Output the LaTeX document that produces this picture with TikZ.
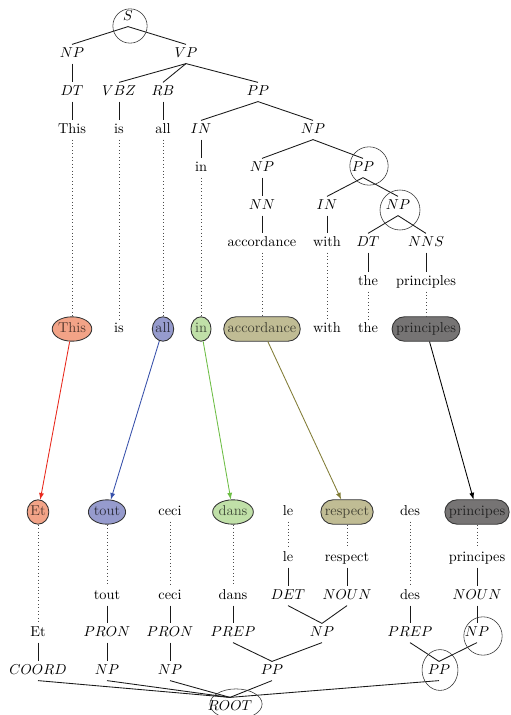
\documentclass[tikz,border=0pt]{standalone}
\usepackage{amsmath}
\usetikzlibrary{calc, shapes}

\definecolor{fThis}{RGB}{242,163,135}
\definecolor{fAll}{RGB}{150,155,205}
\definecolor{fIn}{RGB}{192,224,168}
\definecolor{fAcc}{RGB}{192,188,148}
\definecolor{fPri}{RGB}{118,116,116}
\definecolor{aThis}{RGB}{232,40,28}
\definecolor{aAll}{RGB}{55,80,170}
\definecolor{aIn}{RGB}{110,190,70}
\definecolor{aAcc}{RGB}{130,125,55}

\begin{document}
\begin{tikzpicture}[x=0.0245cm, y=-0.0245cm, >=latex,
    lbl/.style={inner sep=2pt, text height=7pt, text depth=2pt},
    edge/.style={black!90, semithick},
    link/.style={black!70, dotted},
    hl/.style={black!80, thin},
    ali/.style={ellipse, draw=black!80, semithick, inner xsep=0pt, inner ysep=1pt,
        minimum height=17pt, minimum width=14pt, text height=7pt, text depth=2pt},
    alilong/.style={rounded rectangle, draw=black!80, semithick, inner xsep=1.5pt,
        minimum height=17pt, text height=7pt, text depth=2pt}]
            \useasboundingbox (0, 0) rectangle (510, 715);

            % English tree
            \node[lbl] (t-s) at (128, 17) {$S$};
            \node[lbl] (t-np) at (72, 54) {$NP$};
            \node[lbl] (t-vp) at (186, 54) {$VP$};
            \node[lbl] (t-dt) at (72, 92) {$DT$};
            \node[lbl] (t-vbz) at (119, 92) {$VBZ$};
            \node[lbl] (t-rb) at (163, 92) {$RB$};
            \node[lbl] (t-pp) at (258, 92) {$PP$};
            \node[lbl] (t-this) at (72, 130) {This};
            \node[lbl] (t-is) at (119, 130) {is};
            \node[lbl] (t-all) at (163, 130) {all};
            \node[lbl] (t-in) at (201, 130) {$IN$};
            \node[lbl] (t-np2) at (313, 130) {$NP$};
            \node[lbl] (t-inw) at (201, 168) {in};
            \node[lbl] (t-np3) at (262, 168) {$NP$};
            \node[lbl] (t-pp2) at (363, 168) {$PP$};
            \node[lbl] (t-nn) at (262, 206) {$NN$};
            \node[lbl] (t-in2) at (327, 206) {$IN$};
            \node[lbl] (t-np4) at (398, 206) {$NP$};
            \node[lbl] (t-accordance) at (262, 243) {accordance};
            \node[lbl] (t-with) at (327, 243) {with};
            \node[lbl] (t-dt2) at (368, 243) {$DT$};
            \node[lbl] (t-nns) at (426, 243) {$NNS$};
            \node[lbl] (t-the) at (368, 282) {the};
            \node[lbl] (t-principles) at (426, 282) {principles};

            \draw[edge] (t-s.south) -- (t-np.north);
            \draw[edge] (t-s.south) -- (t-vp.north);
            \draw[edge] (t-np.south) -- (t-dt.north);
            \draw[edge] (t-dt.south) -- (t-this.north);
            \draw[edge] (t-vp.south) -- (t-vbz.north);
            \draw[edge] (t-vp.south) -- (t-rb.north);
            \draw[edge] (t-vp.south) -- (t-pp.north);
            \draw[edge] (t-vbz.south) -- (t-is.north);
            \draw[edge] (t-rb.south) -- (t-all.north);
            \draw[edge] (t-pp.south) -- (t-in.north);
            \draw[edge] (t-pp.south) -- (t-np2.north);
            \draw[edge] (t-in.south) -- (t-inw.north);
            \draw[edge] (t-np2.south) -- (t-np3.north);
            \draw[edge] (t-np2.south) -- (t-pp2.north);
            \draw[edge] (t-np3.south) -- (t-nn.north);
            \draw[edge] (t-nn.south) -- (t-accordance.north);
            \draw[edge] (t-pp2.south) -- (t-in2.north);
            \draw[edge] (t-pp2.south) -- (t-np4.north);
            \draw[edge] (t-in2.south) -- (t-with.north);
            \draw[edge] (t-np4.south) -- (t-dt2.north);
            \draw[edge] (t-np4.south) -- (t-nns.north);
            \draw[edge] (t-dt2.south) -- (t-the.north);
            \draw[edge] (t-nns.south) -- (t-principles.north);

            \draw[hl] ([shift={(2, 9)}]t-s.center) circle (0.42cm);
            \draw[hl] ([shift={(6, -2)}]t-pp2.center) circle (0.47cm);
            \draw[hl] ([shift={(2, 4)}]t-np4.center) circle (0.49cm);

            % aligned words
            \node[ali, fill=fThis, text=fThis!35!black] (m-this) at (72, 329) {This};
            \node[lbl] (m-is) at (119, 329) {is};
            \node[ali, fill=fAll, text=fAll!30!black] (m-all) at (163, 329) {all};
            \node[ali, fill=fIn, text=fIn!35!black] (m-in) at (201, 329) {in};
            \node[alilong, fill=fAcc, text=fAcc!35!black] (m-accordance) at (262, 329) {accordance};
            \node[lbl] (m-with) at (327, 329) {with};
            \node[lbl] (m-the) at (368, 329) {the};
            \node[alilong, fill=fPri, text=fPri!30!black] (m-principles) at (426, 329) {principles};

            \node[ali, fill=fThis, text=fThis!35!black] (b-et) at (38, 512) {Et};
            \node[ali, fill=fAll, text=fAll!30!black] (b-tout) at (107, 512) {tout};
            \node[lbl] (b-ceci) at (170, 512) {ceci};
            \node[ali, fill=fIn, text=fIn!35!black] (b-dans) at (233, 512) {dans};
            \node[lbl] (b-le) at (288, 512) {le};
            \node[alilong, fill=fAcc, text=fAcc!35!black] (b-respect) at (347, 512) {respect};
            \node[lbl] (b-des) at (410, 512) {des};
            \node[alilong, fill=fPri, text=fPri!30!black] (b-principes) at (477, 512) {principes};

            \draw[link] (t-this.south) -- (m-this.north);
            \draw[link] (t-is.south) -- (m-is.north);
            \draw[link] (t-all.south) -- (m-all.north);
            \draw[link] (t-inw.south) -- (m-in.north);
            \draw[link] (t-accordance.south) -- (m-accordance.north);
            \draw[link] (t-with.south) -- (m-with.north);
            \draw[link] (t-the.south) -- (m-the.north);
            \draw[link] (t-principles.south) -- (m-principles.north);

            \draw[aThis, semithick, ->] (m-this) -- (b-et);
            \draw[aAll, semithick, ->] (m-all) -- (b-tout);
            \draw[aIn, semithick, ->] (m-in) -- (b-dans);
            \draw[aAcc, semithick, ->] (m-accordance) -- (b-respect);
            \draw[black, semithick, ->] (m-principles) -- (b-principes);

            % French tree
            \node[lbl] (r-le) at (288, 558) {le};
            \node[lbl] (r-respect) at (347, 558) {respect};
            \node[lbl] (r-principes) at (477, 558) {principes};
            \node[lbl] (r-tout) at (107, 596) {tout};
            \node[lbl] (r-ceci) at (170, 596) {ceci};
            \node[lbl] (r-dans) at (233, 596) {dans};
            \node[lbl] (r-det) at (288, 596) {$DET$};
            \node[lbl] (r-noun) at (347, 596) {$NOUN$};
            \node[lbl] (r-des) at (410, 596) {des};
            \node[lbl] (r-noun2) at (477, 596) {$NOUN$};
            \node[lbl] (r-et) at (38, 633) {Et};
            \node[lbl] (r-pron) at (107, 633) {$PRON$};
            \node[lbl] (r-pron2) at (170, 633) {$PRON$};
            \node[lbl] (r-prep) at (233, 633) {$PREP$};
            \node[lbl] (r-np) at (322, 633) {$NP$};
            \node[lbl] (r-prep2) at (410, 633) {$PREP$};
            \node[lbl] (r-np2) at (477, 633) {$NP$};
            \node[lbl] (r-coord) at (38, 671) {$COORD$};
            \node[lbl] (r-np3) at (107, 671) {$NP$};
            \node[lbl] (r-np4) at (170, 671) {$NP$};
            \node[lbl] (r-pp) at (272, 671) {$PP$};
            \node[lbl] (r-pp2) at (439, 671) {$PP$};
            \node[lbl] (r-root) at (230, 707) {$ROOT$};

            \draw[link] (b-et.south) -- (r-et.north);
            \draw[link] (b-tout.south) -- (r-tout.north);
            \draw[link] (b-ceci.south) -- (r-ceci.north);
            \draw[link] (b-dans.south) -- (r-dans.north);
            \draw[link] (b-le.south) -- (r-le.north);
            \draw[link] (b-respect.south) -- (r-respect.north);
            \draw[link] (b-des.south) -- (r-des.north);
            \draw[link] (b-principes.south) -- (r-principes.north);

            \draw[edge] (r-le.south) -- (r-det.north);
            \draw[edge] (r-respect.south) -- (r-noun.north);
            \draw[edge] (r-principes.south) -- (r-noun2.north);
            \draw[edge] (r-tout.south) -- (r-pron.north);
            \draw[edge] (r-ceci.south) -- (r-pron2.north);
            \draw[edge] (r-dans.south) -- (r-prep.north);
            \draw[edge] (r-det.south) -- (r-np.north);
            \draw[edge] (r-noun.south) -- (r-np.north);
            \draw[edge] (r-des.south) -- (r-prep2.north);
            \draw[edge] (r-noun2.south) -- (r-np2.north);
            \draw[edge] (r-et.south) -- (r-coord.north);
            \draw[edge] (r-pron.south) -- (r-np3.north);
            \draw[edge] (r-pron2.south) -- (r-np4.north);
            \draw[edge] (r-prep.south) -- (r-pp.north);
            \draw[edge] (r-np.south) -- (r-pp.north);
            \draw[edge] (r-prep2.south) -- (r-pp2.north);
            \draw[edge] (r-np2.south) -- (r-pp2.north);
            \draw[edge] (r-coord.south) -- (r-root.north);
            \draw[edge] (r-np3.south) -- (r-root.north);
            \draw[edge] (r-np4.south) -- (r-root.north);
            \draw[edge] (r-pp.south) -- (r-root.north);
            \draw[edge] (r-pp2.south) -- (r-root.north);

            \draw[hl] ([shift={(6, 3)}]r-np2.center) circle (0.47cm);
            \draw[hl] ([shift={(1, -1)}]r-pp2.center) ellipse (0.44cm and 0.5cm);
            \draw[hl] ([shift={(6, -3)}]r-root.center) ellipse (0.64cm and 0.37cm);
        \end{tikzpicture}
\end{document}
